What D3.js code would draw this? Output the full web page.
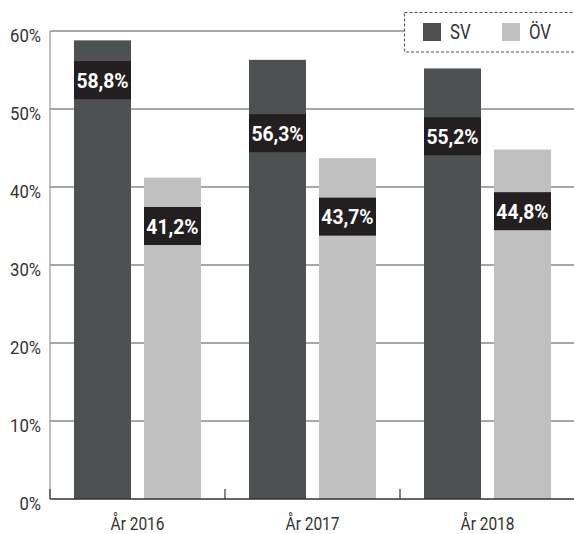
<!DOCTYPE html>
<html>
<head>
<meta charset="utf-8">
<script src="https://cdn.jsdelivr.net/npm/d3@7"></script>
<style>
  html, body { margin: 0; padding: 0; background: #fff; }
  svg { display: block; }
</style>
</head>
<body>
<svg id="chart" width="574" height="534"></svg>
<script>
// Share per year, in percent
const years = ["År 2016", "År 2017", "År 2018"];
const seriesNames = ["SV", "ÖV"];
const svValues = [58.8, 56.3, 55.2];
const ovValues = [41.2, 43.7, 44.8];
const yTicks = [0, 10, 20, 30, 40, 50, 60];

// Level (in percent) where each value tag is centred on its bar
const svTagLevel = [53.7, 46.9, 46.5];
const ovTagLevel = [35.0, 36.2, 36.9];

const colors = { "SV": "#4d5152", "ÖV": "#c0c0c0" };
const tagFill = "#231f20";
const textColor = "#333";

const svg = d3.select("#chart");
const plotLeft = 50, plotRight = 575, plotTop = 31, plotBottom = 499;

const x0 = d3.scaleBand().domain(years).range([plotLeft, plotRight]).padding(0);
const x1 = d3.scaleBand().domain(seriesNames).range([0, x0.bandwidth()])
  .paddingInner(13 / 70).paddingOuter(0.343);
const y = d3.scaleLinear().domain([0, 60]).range([plotBottom, plotTop]);

const svLocale = d3.formatLocale({ decimal: ",", thousands: " ", grouping: [3], currency: ["", " kr"] });
const fmt = v => svLocale.format(".1f")(v) + "%";

const rows = years.map((yr, i) => ({
  year: yr,
  items: [
    { key: "SV", value: svValues[i], tag: svTagLevel[i] },
    { key: "ÖV", value: ovValues[i], tag: ovTagLevel[i] }
  ]
}));

// Horizontal gridlines
svg.append("g")
  .selectAll("line")
  .data(yTicks.filter(t => t > 0))
  .join("line")
  .attr("x1", plotLeft).attr("x2", 574)
  .attr("y1", d => y(d)).attr("y2", d => y(d))
  .attr("stroke", "#8a8a8a").attr("stroke-width", 1.3);

// Left axis rule
svg.append("line")
  .attr("x1", plotLeft).attr("x2", plotLeft)
  .attr("y1", y(60)).attr("y2", y(0))
  .attr("stroke", "#9a9a9a").attr("stroke-width", 1.2);

// Y tick labels
svg.append("g")
  .selectAll("text")
  .data(yTicks)
  .join("text")
  .attr("transform", d => `translate(41,${y(d) + 11}) scale(0.88,1)`)
  .attr("text-anchor", "end")
  .attr("font-family", "Roboto, sans-serif")
  .attr("font-weight", 400)
  .attr("font-size", 19)
  .attr("fill", textColor)
  .text(d => d + "%");

// Bars
const groups = svg.append("g")
  .selectAll("g")
  .data(rows)
  .join("g")
  .attr("transform", d => `translate(${x0(d.year)},0)`);

groups.selectAll("rect.bar")
  .data(d => d.items)
  .join("rect")
  .attr("class", "bar")
  .attr("x", d => x1(d.key))
  .attr("width", x1.bandwidth())
  .attr("y", d => y(d.value))
  .attr("height", d => y(0) - y(d.value))
  .attr("fill", d => colors[d.key]);

// Value tags
const tagH = 38;
groups.selectAll("rect.tag")
  .data(d => d.items)
  .join("rect")
  .attr("class", "tag")
  .attr("x", d => x1(d.key))
  .attr("width", x1.bandwidth())
  .attr("y", d => y(d.tag) - tagH / 2)
  .attr("height", tagH)
  .attr("fill", tagFill);

groups.selectAll("text.val")
  .data(d => d.items)
  .join("text")
  .attr("class", "val")
  .attr("transform", d => `translate(${x1(d.key) + x1.bandwidth() / 2},${y(d.tag) + 7.5}) scale(0.92,1)`)
  .attr("text-anchor", "middle")
  .attr("font-family", "Roboto, sans-serif")
  .attr("font-weight", 700)
  .attr("font-size", 21)
  .attr("fill", "#fff")
  .text(d => fmt(d.value));

// Bottom axis with group separators
svg.append("line")
  .attr("x1", plotLeft).attr("x2", 574)
  .attr("y1", plotBottom).attr("y2", plotBottom)
  .attr("stroke", "#333").attr("stroke-width", 1.3);

svg.append("g")
  .selectAll("line")
  .data(years.slice(1))
  .join("line")
  .attr("x1", d => x0(d)).attr("x2", d => x0(d))
  .attr("y1", plotBottom - 10).attr("y2", plotBottom)
  .attr("stroke", "#333").attr("stroke-width", 1.2);

svg.append("line")
  .attr("x1", plotLeft).attr("x2", plotLeft)
  .attr("y1", plotBottom - 10).attr("y2", plotBottom)
  .attr("stroke", "#333").attr("stroke-width", 1.2);

svg.append("g")
  .selectAll("text")
  .data(years)
  .join("text")
  .attr("transform", d => `translate(${x0(d) + x0.bandwidth() / 2},530) scale(0.86,1)`)
  .attr("text-anchor", "middle")
  .attr("font-family", "Roboto, sans-serif")
  .attr("font-weight", 400)
  .attr("font-size", 18)
  .attr("fill", textColor)
  .text(d => d);

// Legend
const legend = svg.append("g");
legend.append("rect")
  .attr("x", 404.5).attr("y", 12.5)
  .attr("width", 190).attr("height", 39.5)
  .attr("fill", "#fff")
  .attr("stroke", "#555").attr("stroke-width", 1.1)
  .attr("stroke-dasharray", "3,2");

const legendX = d3.scalePoint().domain(seriesNames).range([423, 502]);
const li = legend.selectAll("g.item")
  .data(seriesNames)
  .join("g")
  .attr("class", "item")
  .attr("transform", d => `translate(${legendX(d)},23)`);
li.append("rect")
  .attr("width", 18).attr("height", 18)
  .attr("fill", d => colors[d]);
li.append("text")
  .attr("transform", "translate(27,16) scale(0.8,1)")
  .attr("font-family", "Roboto, sans-serif")
  .attr("font-weight", 400)
  .attr("font-size", 21)
  .attr("fill", textColor)
  .text(d => d);
</script>
</body>
</html>
